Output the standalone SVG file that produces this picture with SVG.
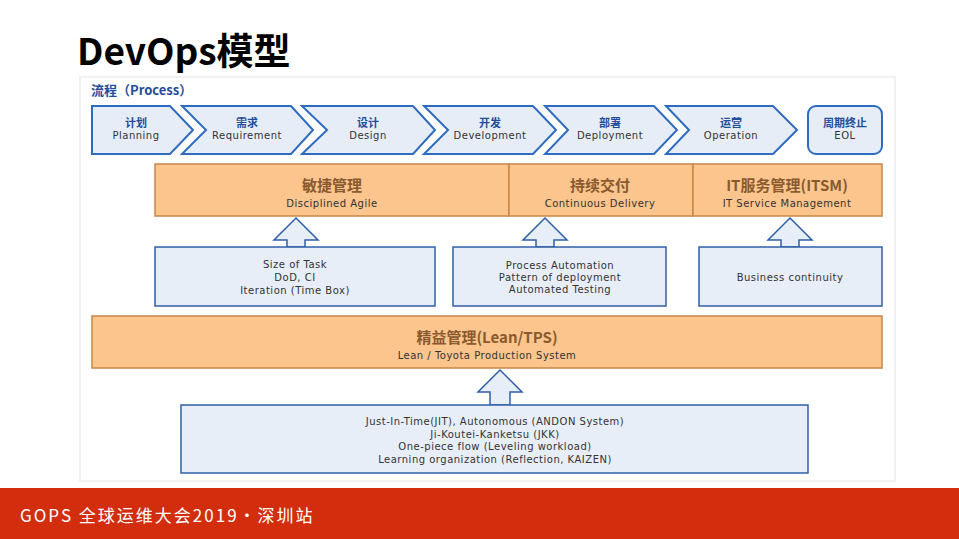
<svg xmlns="http://www.w3.org/2000/svg" width="959" height="539" viewBox="0 0 959 539">
<style>
.ch{fill:#e6edf7;stroke:#2f6bc0;stroke-width:2}
.cn{font-family:"Noto Sans CJK SC",sans-serif;font-weight:bold;font-size:11px;fill:#1f4e9a;text-anchor:middle}
.en{font-family:"DejaVu Sans",sans-serif;font-size:10px;fill:#333;text-anchor:middle;letter-spacing:0.5px}
.or{fill:#fbc58d;stroke:#c8864a;stroke-width:1.5}
.oc{font-family:"Noto Sans CJK SC",sans-serif;font-weight:bold;font-size:15px;fill:#8a5a2e;text-anchor:middle}
.bx{fill:#e8eef7;stroke:#2f5fa8;stroke-width:1.5}
.ar{fill:#e8eef7;stroke:#2f5fa8;stroke-width:1.5}
</style>
<rect width="959" height="539" fill="#fff"/>
<text x="77" y="65" font-family="Noto Sans CJK SC,sans-serif" font-weight="bold" font-size="37" fill="#000">DevOps模型</text>
<rect x="80" y="77" width="815" height="404" fill="#fff" stroke="#e4e4e4"/>
<text x="91" y="95" font-family="Noto Sans CJK SC,sans-serif" font-weight="bold" font-size="13" fill="#1f4e9a">流程（Process）</text>
<g id="planning"><polygon class="ch" points="92,106 170,106 193,130 170,154 92,154"/><text class="cn" x="136" y="127">计划</text><text class="en" x="136" y="139">Planning</text></g>
<g id="requirement"><polygon class="ch" points="182,106 291,106 313,130 291,154 182,154 206,130"/><text class="cn" x="247" y="127">需求</text><text class="en" x="247" y="139">Requirement</text></g>
<g id="design"><polygon class="ch" points="302,106 413,106 435,130 413,154 302,154 327,130"/><text class="cn" x="368" y="127">设计</text><text class="en" x="368" y="139">Design</text></g>
<g id="development"><polygon class="ch" points="424,106 533,106 556,130 533,154 424,154 448,130"/><text class="cn" x="490" y="127">开发</text><text class="en" x="490" y="139">Development</text></g>
<g id="deployment"><polygon class="ch" points="545,106 654,106 677,130 654,154 545,154 568,130"/><text class="cn" x="610" y="127">部署</text><text class="en" x="610" y="139">Deployment</text></g>
<g id="operation"><polygon class="ch" points="666,106 773,106 797,130 773,154 666,154 689,130"/><text class="cn" x="731" y="127">运营</text><text class="en" x="731" y="139">Operation</text></g>
<g id="eol"><rect class="ch" x="808" y="106" width="74" height="48" rx="8"/><text class="cn" x="845" y="127">周期终止</text><text class="en" x="845" y="139">EOL</text></g>
<g id="agile"><rect class="or" x="155" y="164" width="354" height="52"/><text class="oc" x="332" y="191">敏捷管理</text><text class="en" x="332" y="207" font-size="11">Disciplined Agile</text></g>
<g id="cd"><rect class="or" x="509" y="164" width="184" height="52"/><text class="oc" x="600" y="191">持续交付</text><text class="en" x="600" y="207" font-size="11">Continuous Delivery</text></g>
<g id="itsm"><rect class="or" x="693" y="164" width="189" height="52"/><text class="oc" x="787" y="191">IT服务管理(ITSM)</text><text class="en" x="787" y="207" font-size="11" letter-spacing="0.3">IT Service Management</text></g>
<g id="connectors">
<polygon class="ar" points="296,218 318,240 305,240 305,247 287,247 287,240 274,240"/>
<polygon class="ar" points="545,218 567,240 554,240 554,247 536,247 536,240 523,240"/>
<polygon class="ar" points="790,218 812,240 799,240 799,247 781,247 781,240 768,240"/>
<polygon class="ar" points="500,370 522,392 510,392 510,405 490,405 490,392 478,392"/>
</g>
<g id="agile-practices"><rect class="bx" x="155" y="247" width="280" height="59"/><text class="en" x="295" y="268" font-size="11">Size of Task</text><text class="en" x="295" y="281" font-size="11">DoD, CI</text><text class="en" x="295" y="294" font-size="11">Iteration (Time Box)</text></g>
<g id="cd-practices"><rect class="bx" x="453" y="247" width="213" height="59"/><text class="en" x="560" y="269" font-size="11">Process Automation</text><text class="en" x="560" y="281" font-size="11">Pattern of deployment</text><text class="en" x="560" y="293" font-size="11">Automated Testing</text></g>
<g id="itsm-practices"><rect class="bx" x="699" y="247" width="183" height="59"/><text class="en" x="790" y="281" font-size="11">Business continuity</text></g>
<g id="lean"><rect class="or" x="92" y="316" width="790" height="52"/><text class="oc" x="487" y="343">精益管理(Lean/TPS)</text><text class="en" x="487" y="359" font-size="11">Lean / Toyota Production System</text></g>
<g id="lean-practices"><rect class="bx" x="181" y="405" width="627" height="68"/>
<text class="en" x="495" y="425" font-size="11">Just-In-Time(JIT), Autonomous (ANDON System)</text>
<text class="en" x="495" y="438" font-size="11">Ji-Koutei-Kanketsu (JKK)</text>
<text class="en" x="495" y="450" font-size="11">One-piece flow (Leveling workload)</text>
<text class="en" x="495" y="463" font-size="11">Learning organization (Reflection, KAIZEN)</text></g>
<rect x="0" y="488" width="959" height="51" fill="#d22d0c"/>
<text x="20" y="522" font-family="Noto Sans CJK SC,sans-serif" font-size="17" fill="#fff" letter-spacing="2">GOPS 全球运维大会2019·深圳站</text>
</svg>
